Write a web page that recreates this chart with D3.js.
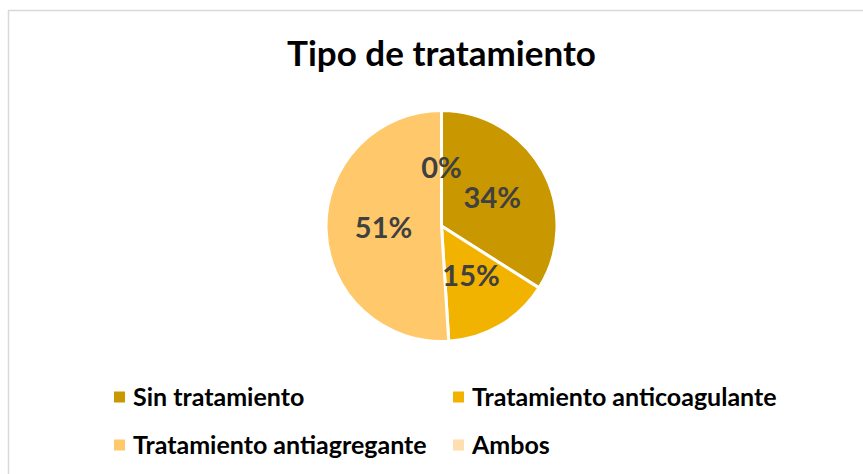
<!DOCTYPE html>
<html>
<head>
<meta charset="utf-8">
<script src="https://cdn.jsdelivr.net/npm/d3@7"></script>
<style>
  body { margin: 0; background: #fff; }
  text { font-family: Lato, "Open Sans", sans-serif; font-weight: bold; }
</style>
</head>
<body>
<div id="content"></div>
<script>
// datos
var categorias = ["Sin tratamiento", "Tratamiento anticoagulante", "Tratamiento antiagregante", "Ambos"];
var valores = [34, 15, 51, 0];
var colores = ["#C99700", "#F2B300", "#FFC96B", "#FFDEAF"];

// dimensiones
var width = 863;
var height = 474;
var cx = 441.5, cy = 226, radio = 115.5;

var svg = d3.select("#content")
  .append("svg")
  .attr("width", width)
  .attr("height", height);

// borde del gráfico
svg.append("rect")
  .attr("x", 8.5)
  .attr("y", 10.5)
  .attr("width", width)
  .attr("height", height)
  .attr("fill", "#fff")
  .attr("stroke", "#D9D9D9")
  .attr("stroke-width", 1.5);

// título
svg.append("text")
  .attr("x", cx)
  .attr("y", 66)
  .attr("text-anchor", "middle")
  .style("font-size", "35px")
  .style("fill", "#000")
  .text("Tipo de tratamiento");

var pie = d3.pie().sort(null);
var arc = d3.arc().innerRadius(0).outerRadius(radio);
var arcLabel = d3.arc().innerRadius(58).outerRadius(58);

var total = d3.sum(valores);
var g = svg.append("g").attr("transform", "translate(" + cx + "," + cy + ")");

var arcos = pie(valores);

g.selectAll("path")
  .data(arcos)
  .enter().append("path")
  .attr("d", arc)
  .attr("fill", function(d, i) { return colores[i]; })
  .attr("stroke", "#fff")
  .attr("stroke-width", 3)
  .attr("stroke-linejoin", "round");

g.selectAll("text.etiqueta")
  .data(arcos)
  .enter().append("text")
  .attr("class", "etiqueta")
  .attr("transform", function(d) {
    var c = arcLabel.centroid(d);
    return "translate(" + c[0] + "," + c[1] + ")";
  })
  .attr("text-anchor", "middle")
  .attr("dy", "0.35em")
  .style("font-size", "29px")
  .style("fill", "#404040")
  .text(function(d) { return Math.round(d.value / total * 100) + "%"; });

// leyenda
var legX = [114, 453];
var legY = [397, 445];
var leyenda = svg.selectAll("g.leyenda")
  .data(categorias)
  .enter().append("g")
  .attr("class", "leyenda")
  .attr("transform", function(d, i) {
    return "translate(" + legX[i % 2] + "," + legY[Math.floor(i / 2)] + ")";
  });

leyenda.append("rect")
  .attr("x", 0)
  .attr("y", -5.5)
  .attr("width", 11)
  .attr("height", 11)
  .attr("fill", function(d, i) { return colores[i]; });

leyenda.append("text")
  .attr("x", 19)
  .attr("y", 8.5)
  .style("font-size", "25px")
  .style("fill", "#000")
  .text(function(d) { return d; });
</script>
</body>
</html>
